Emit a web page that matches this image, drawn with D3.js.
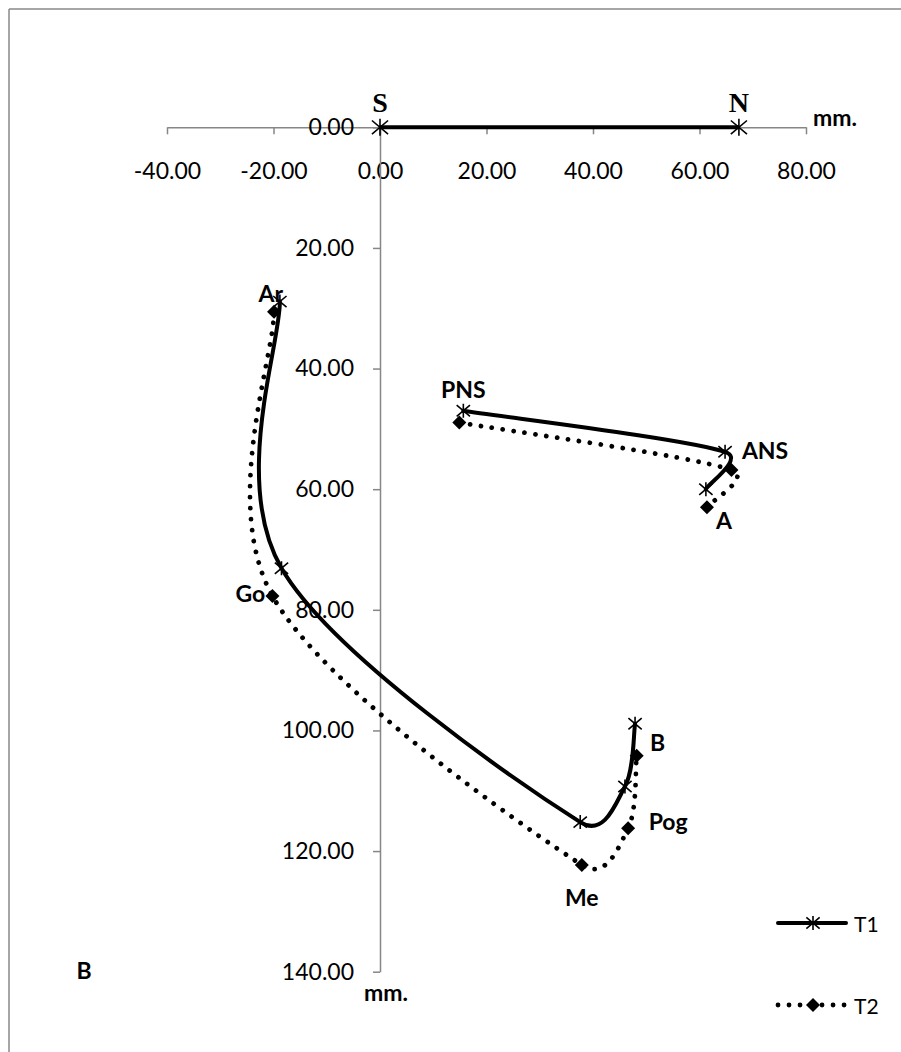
<!DOCTYPE html>
<html>
<head>
<meta charset="utf-8">
<script src="https://cdn.jsdelivr.net/npm/d3@7"></script>
<style>
  html, body { margin: 0; padding: 0; background: #ffffff; }
  svg { display: block; }
</style>
</head>
<body>
<svg id="chart" width="901" height="1052"></svg>
<script>
// ---------------- data ----------------
const landmarks = ["Ar", "Go", "Me", "Pog", "B"];
const t1X = [-18.8, -18.5, 37.6, 46.0, 47.9];
const t1Y = [28.9, 73.1, 115.2, 109.3, 98.9];
const t2X = [-19.9, -20.2, 37.9, 46.6, 48.2];
const t2Y = [30.6, 77.7, 122.3, 116.2, 104.2];

const maxillaLandmarks = ["PNS", "ANS", "A"];
const t1MaxX = [15.65, 64.8, 61.2];
const t1MaxY = [47.0, 53.8, 60.0];
const t2MaxX = [14.9, 66.0, 61.4];
const t2MaxY = [48.95, 56.8, 63.0];

const snNames = ["S", "N"];
const snX = [0, 67.4];
const snY = [0, 0];

const xTickValues = [-40, -20, 0, 20, 40, 60, 80];
const yTickValues = [0, 20, 40, 60, 80, 100, 120, 140];
const seriesNames = ["T1", "T2"];

// ---------------- layout / style ----------------
const X0 = 167, X1 = 806;     // pixel for -40 / 80
const Y0 = 127.3, Y1 = 971.7; // pixel for 0 / 140
const labelFont = "Lato, 'Open Sans', sans-serif";
const axisColor = "#868686";

const svg = d3.select("#chart");

// frame
svg.append("line").attr("x1", 9).attr("y1", 9).attr("x2", 901).attr("y2", 9)
  .attr("stroke", "#888").attr("stroke-width", 1.5);
svg.append("line").attr("x1", 9).attr("y1", 9).attr("x2", 9).attr("y2", 1052)
  .attr("stroke", "#888").attr("stroke-width", 1.5);

const x = d3.scaleLinear().domain([-40, 80]).range([X0, X1]);
const y = d3.scaleLinear().domain([0, 140]).range([Y0, Y1]);

const fmt = d => d.toFixed(2);
const xAxis = d3.axisBottom(x).tickValues(xTickValues).tickFormat(fmt)
  .tickSize(7).tickSizeOuter(0).tickPadding(28);
const yAxis = d3.axisLeft(y).tickValues(yTickValues).tickFormat(fmt)
  .tickSize(7).tickSizeOuter(0).tickPadding(19);

const gx = svg.append("g").attr("transform", `translate(0,${y(0)})`).call(xAxis);
const gy = svg.append("g").attr("transform", `translate(${x(0)},0)`).call(yAxis);
[gx, gy].forEach(g => {
  g.select(".domain").attr("stroke", axisColor).attr("stroke-width", 1.5);
  g.selectAll(".tick line").attr("stroke", axisColor).attr("stroke-width", 1.5);
  g.selectAll(".tick text").attr("fill", "#000").style("font-family", labelFont)
    .style("font-size", "23px");
});

// helpers
const star = (g, cx, cy, s) => {
  const p = d3.path();
  p.moveTo(cx, cy - s); p.lineTo(cx, cy + s);
  p.moveTo(cx - s * 0.95, cy - s * 0.8); p.lineTo(cx + s * 0.95, cy + s * 0.8);
  p.moveTo(cx - s * 0.95, cy + s * 0.8); p.lineTo(cx + s * 0.95, cy - s * 0.8);
  g.append("path").attr("d", p.toString()).attr("stroke", "#000")
    .attr("stroke-width", 1.6).attr("fill", "none");
};
const diamond = (g, cx, cy, s) => {
  g.append("path").attr("d", `M${cx},${cy - s}L${cx + s},${cy}L${cx},${cy + s}L${cx - s},${cy}Z`)
    .attr("fill", "#000");
};

// Excel-like smoothed line: cubic Bezier, tangent (P[i+1]-P[i-1])/6,
// control arm limited to half of the segment it belongs to.
function smoothPath(data) {
  const P = data.map(d => [x(d[0]), y(d[1])]);
  const n = P.length;
  const T = P.map((p, i) => {
    const a = P[Math.max(0, i - 1)], b = P[Math.min(n - 1, i + 1)];
    return [(b[0] - a[0]) / 6, (b[1] - a[1]) / 6];
  });
  const clip = (t, segLen) => {
    const l = Math.hypot(t[0], t[1]), lim = 0.5 * segLen;
    return l > lim ? [t[0] * lim / l, t[1] * lim / l] : t;
  };
  const path = d3.path();
  path.moveTo(P[0][0], P[0][1]);
  for (let i = 0; i < n - 1; i++) {
    const seg = Math.hypot(P[i + 1][0] - P[i][0], P[i + 1][1] - P[i][1]);
    const a = clip(T[i], seg), b = clip(T[i + 1], seg);
    path.bezierCurveTo(P[i][0] + a[0], P[i][1] + a[1],
      P[i + 1][0] - b[0], P[i + 1][1] - b[1], P[i + 1][0], P[i + 1][1]);
  }
  return path.toString();
}

const zip = (xs, ys) => xs.map((v, i) => [v, ys[i]]);
const t1Man = zip(t1X, t1Y), t2Man = zip(t2X, t2Y);
const t1Max = zip(t1MaxX, t1MaxY), t2Max = zip(t2MaxX, t2MaxY);

const solidStyle = p => p.attr("fill", "none").attr("stroke", "#000").attr("stroke-width", 4)
  .attr("stroke-linejoin", "round").attr("stroke-linecap", "round");
const dotStyle = p => p.attr("fill", "none").attr("stroke", "#000").attr("stroke-width", 4.8)
  .attr("stroke-linecap", "round").attr("stroke-dasharray", "0.01 11");

const plot = svg.append("g");
plot.append("path").attr("d", smoothPath(t2Man)).call(dotStyle);
plot.append("path").attr("d", smoothPath(t2Max)).call(dotStyle);
plot.append("path").attr("d", smoothPath(t1Man)).call(solidStyle);
plot.append("path").attr("d", smoothPath(t1Max)).call(solidStyle);
plot.append("path").datum(zip(snX, snY)).attr("d", d3.line().x(d => x(d[0])).y(d => y(d[1])))
  .call(solidStyle).attr("stroke-linecap", "butt");

// markers
t2Man.concat(t2Max).forEach(d => diamond(plot, x(d[0]), y(d[1]), 7));
t1Man.concat(t1Max).forEach(d => star(plot, x(d[0]), y(d[1]), 7));
zip(snX, snY).forEach(d => star(plot, x(d[0]), y(d[1]), 8.5));

// S / N labels
snNames.forEach((n, i) => {
  svg.append("text").attr("x", x(snX[i])).attr("y", y(snY[i]) - 15)
    .attr("text-anchor", "middle").style("font-family", "'Liberation Serif', 'Times New Roman', serif")
    .style("font-weight", "bold").style("font-size", "28px").text(n);
});

// point labels: [anchor set, index, dx px, dy px]
const labelOffsets = {
  Ar: ["t1m", 0, -9, -9],
  Go: ["t2m", 1, -22, -3],
  Me: ["t2m", 2, 0, 32],
  Pog: ["t2m", 3, 40, -7],
  B: ["t2m", 4, 21, -14],
  PNS: ["t1x", 0, 0, -22],
  ANS: ["t1x", 1, 40, -2],
  A: ["t2x", 2, 17, 13]
};
const anchorSets = { t1m: t1Man, t2m: t2Man, t1x: t1Max, t2x: t2Max };
landmarks.concat(maxillaLandmarks).forEach(name => {
  const [set, idx, dx, dy] = labelOffsets[name];
  const d = anchorSets[set][idx];
  svg.append("text").attr("x", x(d[0]) + dx).attr("y", y(d[1]) + dy)
    .attr("text-anchor", "middle").attr("dominant-baseline", "central")
    .style("font-family", labelFont).style("font-weight", "bold").style("font-size", "23px")
    .text(name);
});

// axis unit labels
svg.append("text").attr("x", X1 + 7).attr("y", y(0) - 1).attr("text-anchor", "start")
  .style("font-family", labelFont).style("font-weight", "bold").style("font-size", "23px").text("mm.");
svg.append("text").attr("x", x(0) + 6).attr("y", Y1 + 29).attr("text-anchor", "middle")
  .style("font-family", labelFont).style("font-weight", "bold").style("font-size", "23px").text("mm.");

// panel letter
svg.append("text").attr("x", 84).attr("y", 979).attr("text-anchor", "middle")
  .style("font-family", labelFont).style("font-weight", "bold").style("font-size", "23px").text("B");

// legend
const legendY = [923, 1005];
seriesNames.forEach((s, i) => {
  const g = svg.append("g");
  const ly = legendY[i];
  const ln = g.append("line").attr("x1", 778).attr("x2", 846).attr("y1", ly).attr("y2", ly);
  if (i === 0) { ln.call(solidStyle); star(g, 813, ly, 7); }
  else { ln.call(dotStyle); diamond(g, 813, ly, 7); }
  g.append("text").attr("x", 854).attr("y", ly).attr("dominant-baseline", "central")
    .style("font-family", labelFont).style("font-size", "21px").text(s);
});
</script>
</body>
</html>
